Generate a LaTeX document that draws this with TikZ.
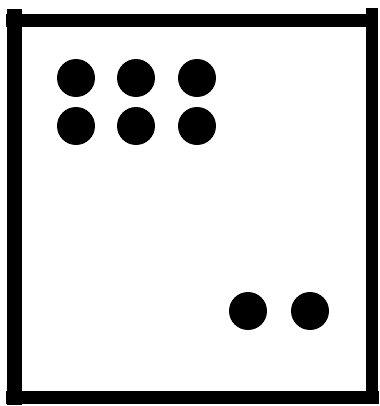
\documentclass[tikz,border=0pt]{standalone}
\usetikzlibrary{positioning}
\begin{document}
\begin{tikzpicture}[
    x=0.02cm, y=-0.02cm,
    dot/.style={circle, fill=black, inner sep=0pt, minimum size=0.76cm},
    bar/.style={draw=black, line width=7.4pt},
  ]
    \useasboundingbox (0,0) rectangle (379,406);
    % --- frame -------------------------------------------------------------
    \draw[bar, line width=8.5pt] (14.5,9) -- (14.5,405);
    \draw[bar] (6,20.5) -- (372,20.5);
    \draw[bar, line width=6.8pt] (372,8) -- (372,397);
    \draw[bar] (6,397) -- (379,397);
    % --- upper group -------------------------------------------------------
    \node[dot] (a1) at (76,78)  {};
    \node[dot] (a2) at (136,78) {};
    \node[dot] (a3) at (197,78) {};
    \node[dot] (b1) at (76,126)  {};
    \node[dot] (b2) at (136,126) {};
    \node[dot] (b3) at (197,126) {};
    % --- lower pair --------------------------------------------------------
    \node[dot] (c1) at (248,311) {};
    \node[dot] (c2) at (310,311) {};
\end{tikzpicture}
\end{document}
